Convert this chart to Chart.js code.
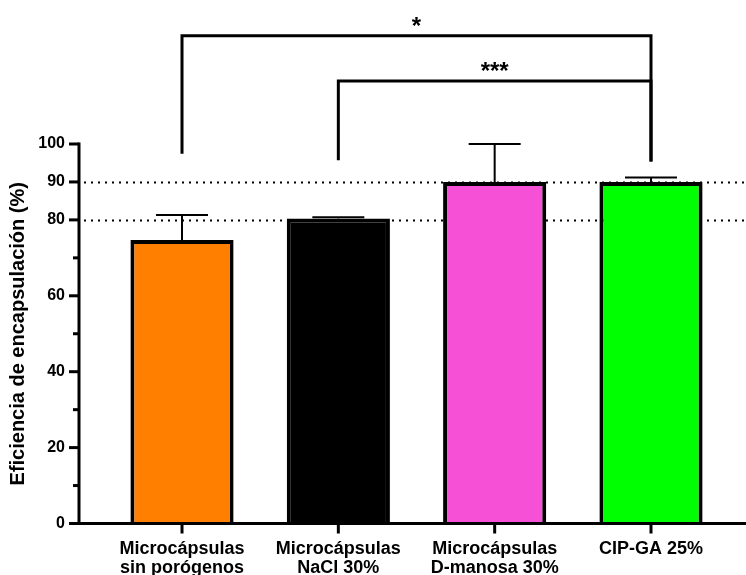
<!DOCTYPE html>
<html>
<head>
<meta charset="utf-8">
<script src="https://cdn.jsdelivr.net/npm/chart.js@4/dist/chart.umd.min.js"></script>
<style>
  html, body { margin: 0; padding: 0; background: #ffffff; }
  #wrap { width: 746px; height: 575px; }
</style>
</head>
<body>
<div id="wrap"><canvas id="c"></canvas></div>
<script>
// Groups (two-line labels) and measured encapsulation efficiency
const groups = [
  ['Microcápsulas', 'sin porógenos'],
  ['Microcápsulas', 'NaCl 30%'],
  ['Microcápsulas', 'D-manosa 30%'],
  ['CIP-GA 25%']
];
const efficiency = [74.7, 80.4, 90.0, 90.0];
const errorSD = [6.6, 0.3, 10.0, 1.2];
const barColors = ['#FF8000', '#000000', '#F550D6', '#00FF00'];

// Y axis ticks: labelled majors and unlabelled minors
const yTickValues = [0, 10, 20, 30, 40, 50, 60, 70, 80, 90, 100];
const yTickLabels = ['0', '', '20', '', '40', '', '60', '', '80', '90', '100'];

// Dotted reference levels
const refLines = [80, 90];

// Significance comparisons
const compFrom = [0, 1];
const compTo = [3, 3];
const compLabel = ['*', '***'];
const compLevel = [128.5, 116.6];
const compLegFrom = [97.4, 95.7];
const compLegTo = [95.4, 95.4];

const FONT = '"Liberation Sans", Arial, Helvetica, sans-serif';

const decorations = {
  id: 'decorations',
  beforeDatasetsDraw(chart) {
    const { ctx, chartArea, scales: { y } } = chart;
    ctx.save();
    ctx.strokeStyle = '#000';
    ctx.lineWidth = 2;
    ctx.setLineDash([2, 5]);
    refLines.forEach(v => {
      const py = Math.round(y.getPixelForValue(v)) + 0.5;
      ctx.beginPath();
      ctx.moveTo(chartArea.left + 5, py);
      ctx.lineTo(chartArea.right, py);
      ctx.stroke();
    });
    ctx.restore();
  },
  afterDatasetsDraw(chart) {
    const { ctx, chartArea, scales: { x, y } } = chart;
    ctx.save();
    ctx.strokeStyle = '#000';
    ctx.lineCap = 'butt';

    // error bars (upper only)
    ctx.lineWidth = 2;
    efficiency.forEach((v, i) => {
      const px = x.getPixelForValue(i);
      const yb = y.getPixelForValue(v);
      const yt = y.getPixelForValue(v + errorSD[i]);
      ctx.beginPath();
      ctx.moveTo(px, yb);
      ctx.lineTo(px, yt);
      ctx.moveTo(px - 26, yt);
      ctx.lineTo(px + 26, yt);
      ctx.stroke();
    });

    // axes
    ctx.lineWidth = 3;
    const ax = chartArea.left;
    const ay = chartArea.bottom;
    ctx.beginPath();
    ctx.moveTo(ax, chartArea.top - 1.5);
    ctx.lineTo(ax, ay + 1.5);
    ctx.moveTo(ax - 1.5, ay);
    ctx.lineTo(chartArea.right, ay);
    ctx.stroke();

    // y ticks
    yTickValues.forEach((v, i) => {
      const py = y.getPixelForValue(v);
      const len = yTickLabels[i] ? 10 : 6;
      ctx.beginPath();
      ctx.moveTo(ax - len, py);
      ctx.lineTo(ax, py);
      ctx.stroke();
    });

    // x ticks
    groups.forEach((g, i) => {
      const px = x.getPixelForValue(i);
      ctx.beginPath();
      ctx.moveTo(px, ay);
      ctx.lineTo(px, ay + 10);
      ctx.stroke();
    });

    // significance brackets
    ctx.lineWidth = 3;
    ctx.lineJoin = 'miter';
    ctx.fillStyle = '#000';
    ctx.font = 'bold 24px ' + FONT;
    ctx.textAlign = 'center';
    ctx.textBaseline = 'alphabetic';
    compFrom.forEach((a, k) => {
      const xa = x.getPixelForValue(a);
      const xb = x.getPixelForValue(compTo[k]);
      const yl = y.getPixelForValue(compLevel[k]);
      ctx.beginPath();
      ctx.moveTo(xa, y.getPixelForValue(compLegFrom[k]));
      ctx.lineTo(xa, yl);
      ctx.lineTo(xb, yl);
      ctx.lineTo(xb, y.getPixelForValue(compLegTo[k]));
      ctx.stroke();
      ctx.fillText(compLabel[k], (xa + xb) / 2, yl - 2);
    });
    ctx.restore();
  }
};

new Chart(document.getElementById('c'), {
  type: 'bar',
  data: {
    datasets: [{
      data: efficiency.map((v, i) => ({ x: i, y: v })),
      backgroundColor: barColors,
      borderColor: '#000000',
      borderWidth: 4,
      borderSkipped: 'start',
      barPercentage: 1,
      categoryPercentage: 0.66
    }]
  },
  options: {
    responsive: true,
    maintainAspectRatio: false,
    animation: false,
    layout: { padding: { top: 144, left: 0, right: 0, bottom: 0 } },
    plugins: { legend: { display: false }, tooltip: { enabled: false } },
    scales: {
      x: {
        type: 'linear',
        offset: false,
        min: -0.6589,
        max: 3.6077,
        grid: { display: false, drawTicks: false },
        border: { display: false },
        afterBuildTicks: s => { s.ticks = groups.map((g, i) => ({ value: i })); },
        afterFit: s => { s.height = 51.5; },
        ticks: {
          autoSkip: false,
          maxRotation: 0,
          padding: 16,
          color: '#000',
          font: { family: FONT, size: 18, weight: 'bold', lineHeight: 1.06 },
          callback: v => groups[v]
        }
      },
      y: {
        min: 0,
        max: 100,
        grid: { display: false, drawTicks: false },
        border: { display: false },
        afterBuildTicks: s => { s.ticks = yTickValues.map(v => ({ value: v })); },
        afterFit: s => { s.width = 79; },
        ticks: {
          autoSkip: false,
          padding: 14,
          color: '#000',
          font: { family: FONT, size: 16, weight: 'bold' },
          callback: v => yTickLabels[yTickValues.indexOf(v)]
        },
        title: {
          display: true,
          text: 'Eficiencia de encapsulación (%)',
          color: '#000',
          font: { family: FONT, size: 20, weight: 'bold' },
          padding: { top: 6, bottom: 0 }
        }
      }
    }
  },
  plugins: [decorations]
});
</script>
</body>
</html>
